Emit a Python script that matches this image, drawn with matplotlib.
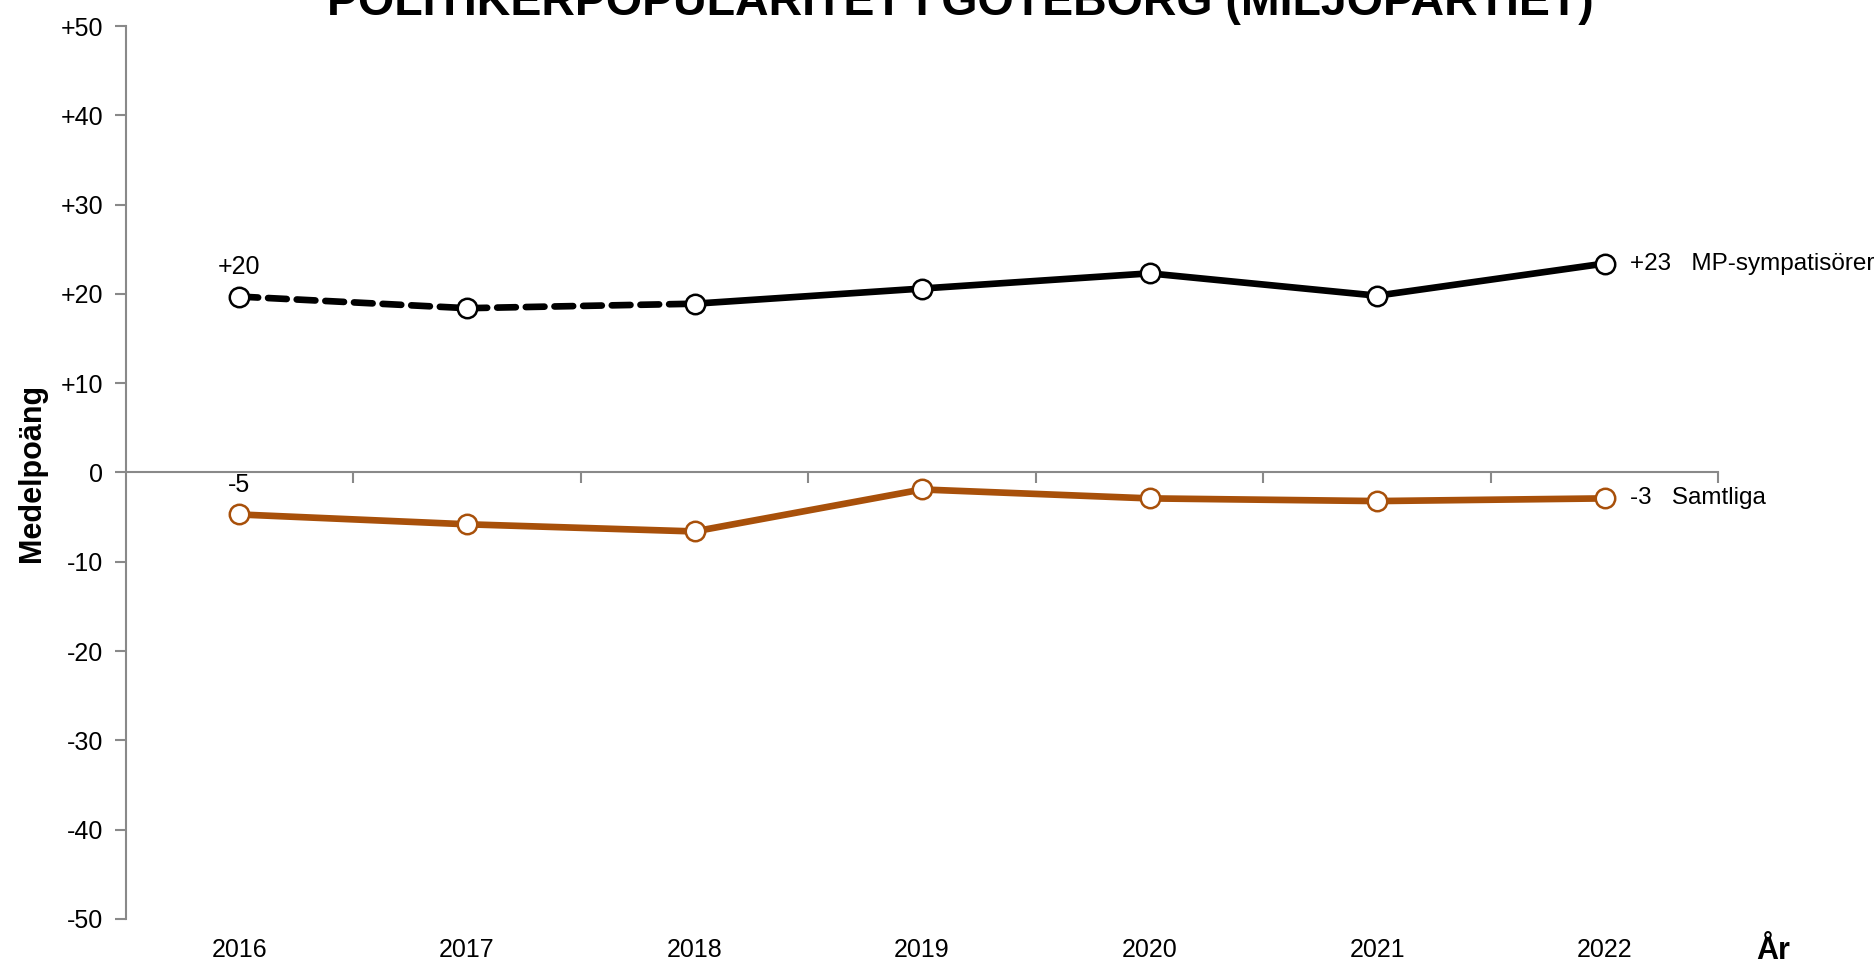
import matplotlib
matplotlib.use("Agg")
import matplotlib.pyplot as plt
import numpy as np

# data
years = ["2016", "2017", "2018", "2019", "2020", "2021", "2022"]
mp_symp = [19.7, 18.4, 18.9, 20.6, 22.3, 19.8, 23.4]
samtliga = [-4.7, -5.8, -6.6, -1.9, -2.9, -3.2, -2.9]
series_names = ["MP-sympatisörer", "Samtliga"]
yticks = [-50, -40, -30, -20, -10, 0, 10, 20, 30, 40, 50]

n_dashed = 3  # first three points joined with a dashed line

plt.rcParams["font.family"] = ["Liberation Sans", "DejaVu Sans"]
plt.rcParams["font.size"] = 18

black = "#000000"
orange = "#A8500A"
grey = "#898989"

fig = plt.figure(figsize=(18.76, 9.63), dpi=100)
ax = fig.add_axes([0.067, 0.0457, 0.849, 0.9273])

x = np.arange(len(years))

mk = dict(marker="o", markersize=14, markerfacecolor="white", markeredgewidth=1.8)

# MP-sympatisörer: dashed part then solid part
ax.plot(x[:n_dashed], mp_symp[:n_dashed], color=black, lw=4.8, ls=(0, (2.8, 1.5)),
        dash_capstyle="round", zorder=3)
ax.plot(x[n_dashed - 1:], mp_symp[n_dashed - 1:], color=black, lw=4.8, zorder=3)
ax.plot(x, mp_symp, ls="none", markeredgecolor=black, zorder=4, **mk)

ax.plot(x, samtliga, color=orange, lw=4.8, zorder=3)
ax.plot(x, samtliga, ls="none", markeredgecolor=orange, zorder=4, **mk)

# first and last value labels
for vals, name in zip([mp_symp, samtliga], series_names):
    ax.annotate(f"{round(vals[0]):+d}", (x[0], vals[0]), xytext=(0, 21),
                textcoords="offset points", ha="center", va="center", fontsize=18)
    ax.annotate(f"{round(vals[-1]):+d}   {name}", (x[-1], vals[-1]), xytext=(18, 0),
                textcoords="offset points", ha="left", va="center", fontsize=17.5)

ax.set_xlim(-0.5, len(years) - 0.5)
ax.set_ylim(-50, 50)

# y axis
ax.set_yticks(yticks)
ax.set_yticklabels([f"{v:+d}" if v != 0 else "0" for v in yticks])
ax.tick_params(axis="y", direction="out", length=8, width=1.5, color=grey, pad=8)
ax.spines["left"].set_color(grey)
ax.spines["left"].set_linewidth(1.5)
ax.spines["right"].set_visible(False)
ax.spines["top"].set_visible(False)

# x axis line crosses at 0, ticks between categories
ax.spines["bottom"].set_position(("data", 0))
ax.spines["bottom"].set_color(grey)
ax.spines["bottom"].set_linewidth(1.5)
ax.set_xticks(np.arange(0.5, len(years) - 0.5 + 0.01, 1.0))
ax.set_xticklabels([])
ax.tick_params(axis="x", direction="out", length=8, width=1.5, color=grey)

# category labels at the bottom
sec = ax.secondary_xaxis("bottom")
sec.set_xticks(x)
sec.set_xticklabels(years)
sec.tick_params(length=0, pad=14, labelsize=18)
sec.spines["bottom"].set_visible(False)

ax.set_ylabel("Medelpoäng", fontsize=22, fontweight="bold", labelpad=10)
fig.text(0.945, 0.004, "År", fontsize=22, fontweight="bold", ha="center", va="baseline")

fig.text(0.512, 0.9844, "POLITIKERPOPULARITET I GÖTEBORG (MILJÖPARTIET)",
         fontsize=33.5, fontweight="bold", ha="center", va="baseline")

fig.savefig("out.png", dpi=100, facecolor="white")
